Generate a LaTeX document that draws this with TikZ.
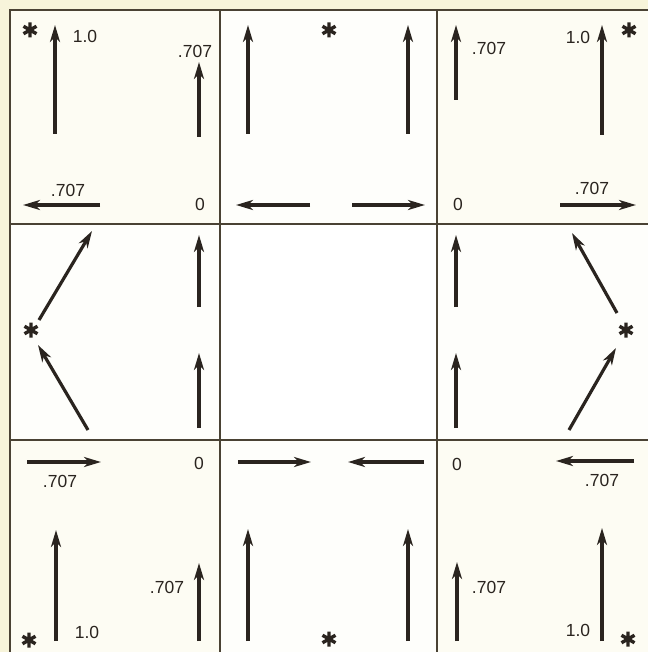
\documentclass[tikz,border=0pt]{standalone}
\usepackage{fontspec}
\setmainfont{Liberation Sans}
\usetikzlibrary{arrows.meta}
\definecolor{bgcream}{HTML}{F7F4DA}
\definecolor{cellcream}{HTML}{FDFCF3}
\definecolor{ink}{HTML}{2A241F}
\definecolor{gridc}{HTML}{4A4234}
\tikzset{
  vec/.style={draw=ink, line width=3.2pt, -{Stealth[length=17pt,width=10pt,inset=5pt]}},
  lbl/.style={text=ink, font=\fontsize{17.5}{19}\selectfont, inner sep=0pt},
  asterisk/.style={minimum size=17pt, inner sep=0pt, path picture={
      \draw[ink, line width=3.4pt]
        (path picture bounding box.center) +(90:7.5pt) -- +(270:7.5pt)
        (path picture bounding box.center) +(30:7.5pt) -- +(210:7.5pt)
        (path picture bounding box.center) +(150:7.5pt) -- +(330:7.5pt);}},
  gridline/.style={draw=gridc, line width=1.4pt}
}
\newcommand\varrow[3]{\coordinate (#1a) at (#2); \coordinate (#1b) at (#3); \draw[vec] (#1a) -- (#1b);}
\begin{document}
\begin{tikzpicture}[x=1pt,y=-1pt]
\useasboundingbox (0,0) rectangle (648,652);
\fill[bgcream] (0,0) rectangle (648,652);
\fill[cellcream] (10,10) rectangle (648,652);
\fill[white!70!cellcream] (220,10) rectangle (437,652);
\fill[white!70!cellcream] (10,224) rectangle (648,440);
\fill[white] (220,224) rectangle (437,440);
% grid
\draw[gridline] (10,652) -- (10,10) -- (648,10);
\draw[gridline] (220,10) -- (220,652);
\draw[gridline] (437,10) -- (437,652);
\draw[gridline] (10,224) -- (648,224);
\draw[gridline] (10,440) -- (648,440);

% ---- top-left cell
\node[asterisk] (s1) at (30,30) {};
\varrow{a1}{55,134}{55,25}
\node[lbl] (l1) at (85,36) {1.0};
\varrow{a2}{199,137}{199,62}
\node[lbl] (l2) at (195,51) {.707};
\varrow{a3}{100,205}{23,205}
\node[lbl] (l3) at (68,190) {.707};
\node[lbl] (z1) at (200,204) {0};

% ---- top-middle cell
\varrow{a4}{248,134}{248,25}
\node[asterisk] (s2) at (329,30) {};
\varrow{a5}{408,134}{408,25}
\varrow{a6}{310,205}{236,205}
\varrow{a7}{352,205}{425,205}

% ---- top-right cell
\varrow{a8}{456,100}{456,25}
\node[lbl] (l4) at (489,48) {.707};
\varrow{a9}{602,135}{602,25}
\node[lbl] (l5) at (578,37) {1.0};
\node[asterisk] (s3) at (629,30) {};
\node[lbl] (z2) at (458,204) {0};
\varrow{a10}{560,205}{636,205}
\node[lbl] (l6) at (592,188) {.707};

% ---- middle-left cell
\node[asterisk] (s4) at (31,330) {};
\varrow{a11}{39,320}{92,231}
\varrow{a12}{88,430}{38,345}
\varrow{a13}{199,307}{199,235}
\varrow{a14}{199,428}{199,353}

% ---- middle-right cell
\varrow{a15}{456,307}{456,235}
\varrow{a16}{456,428}{456,353}
\varrow{a17}{617,313}{572,233}
\node[asterisk] (s5) at (626,330) {};
\varrow{a18}{569,430}{616,348}

% ---- bottom-left cell
\varrow{a19}{27,462}{101,462}
\node[lbl] (l7) at (60,481) {.707};
\node[lbl] (z3) at (199,463) {0};
\varrow{a20}{56,641}{56,530}
\node[lbl] (l8) at (87,632) {1.0};
\node[asterisk] (s6) at (29,640) {};
\varrow{a21}{199,641}{199,563}
\node[lbl] (l9) at (167,587) {.707};

% ---- bottom-middle cell
\varrow{a22}{238,462}{311,462}
\varrow{a23}{424,462}{348,462}
\varrow{a24}{248,641}{248,529}
\varrow{a25}{408,641}{408,529}
\node[asterisk] (s7) at (329,639) {};

% ---- bottom-right cell
\node[lbl] (z4) at (457,464) {0};
\varrow{a26}{634,461}{556,461}
\node[lbl] (l10) at (602,480) {.707};
\varrow{a27}{457,641}{457,562}
\node[lbl] (l11) at (489,587) {.707};
\varrow{a28}{602,641}{602,528}
\node[lbl] (l12) at (578,630) {1.0};
\node[asterisk] (s8) at (628,639) {};
\end{tikzpicture}
\end{document}
